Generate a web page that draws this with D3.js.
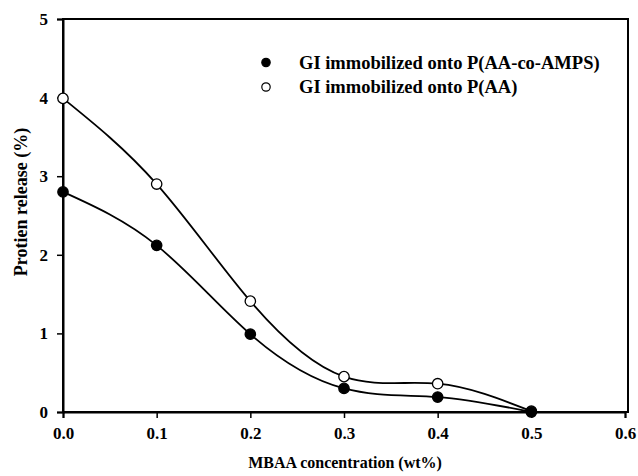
<!DOCTYPE html>
<html><head><meta charset="utf-8">
<script src="https://cdn.jsdelivr.net/npm/d3@7"></script>
<style>body{margin:0;background:#fff}svg{display:block}text{font-family:"Liberation Serif","Times New Roman",serif;font-weight:bold;fill:#000}</style>
</head><body><svg id="c" width="638" height="476"></svg>
<script>
const xValues = [0.0, 0.1, 0.2, 0.3, 0.4, 0.5];
const seriesNames = ["GI immobilized onto P(AA-co-AMPS)", "GI immobilized onto P(AA)"];
const ampsValues = [2.80, 2.12, 0.99, 0.30, 0.19, 0.00];
const aaValues = [3.99, 2.90, 1.41, 0.45, 0.36, 0.01];
const xTicks = [0.0, 0.1, 0.2, 0.3, 0.4, 0.5, 0.6];
const yTicks = [0, 1, 2, 3, 4, 5];

const svg = d3.select("#c");
const L = 63, R = 625, T = 19, B = 412;
const x = d3.scaleLinear().domain([0, 0.6]).range([L, R]);
const y = d3.scaleLinear().domain([0, 5]).range([B, T]);

svg.append("rect").attr("x", L).attr("y", T).attr("width", 628 - L).attr("height", B - T)
  .attr("fill", "none").attr("stroke", "#000").attr("stroke-width", 2);

const xa = svg.append("g").attr("transform", `translate(0,${B})`)
  .call(d3.axisBottom(x).tickValues(xTicks).tickFormat(d3.format(".1f")).tickSize(6).tickPadding(9));
const ya = svg.append("g").attr("transform", `translate(${L},0)`)
  .call(d3.axisLeft(y).tickValues(yTicks).tickFormat(d3.format("d")).tickSize(6).tickPadding(9));
[xa, ya].forEach(a => {
  a.attr("font-family", null).attr("font-size", null);
  a.select(".domain").attr("stroke-width", 2);
  a.selectAll(".tick line").attr("stroke-width", 1.5);
  a.selectAll(".tick text").attr("font-size", 17);
});

const line = d3.line().x((d, i) => x(xValues[i])).y(d => y(d)).curve(d3.curveNatural);
[aaValues, ampsValues].forEach(vals => {
  svg.append("path").datum(vals).attr("d", line).attr("fill", "none").attr("stroke", "#000").attr("stroke-width", 1.8);
});
[[aaValues, "#fff"], [ampsValues, "#000"]].forEach(([vals, fill]) => {
  svg.append("g").selectAll("circle").data(vals).join("circle")
    .attr("cx", (d, i) => x(xValues[i])).attr("cy", d => y(d)).attr("r", 5.2)
    .attr("fill", fill).attr("stroke", "#000").attr("stroke-width", 1.3);
});

const leg = svg.append("g");
[["#000", 62.5, 69], ["#fff", 87, 93]].forEach(([fill, cy, by], i) => {
  leg.append("circle").attr("cx", 266).attr("cy", cy).attr("r", 4.2).attr("fill", fill).attr("stroke", "#000").attr("stroke-width", 1.2);
  leg.append("text").attr("x", 299).attr("y", by).attr("font-size", 18.5).text(seriesNames[i]);
});

svg.append("text").attr("x", 345).attr("y", 468).attr("text-anchor", "middle").attr("font-size", 16).text("MBAA concentration (wt%)");
svg.append("text").attr("transform", "translate(27,202) rotate(-90)").attr("text-anchor", "middle").attr("font-size", 18).text("Protien release (%)");
</script></body></html>
